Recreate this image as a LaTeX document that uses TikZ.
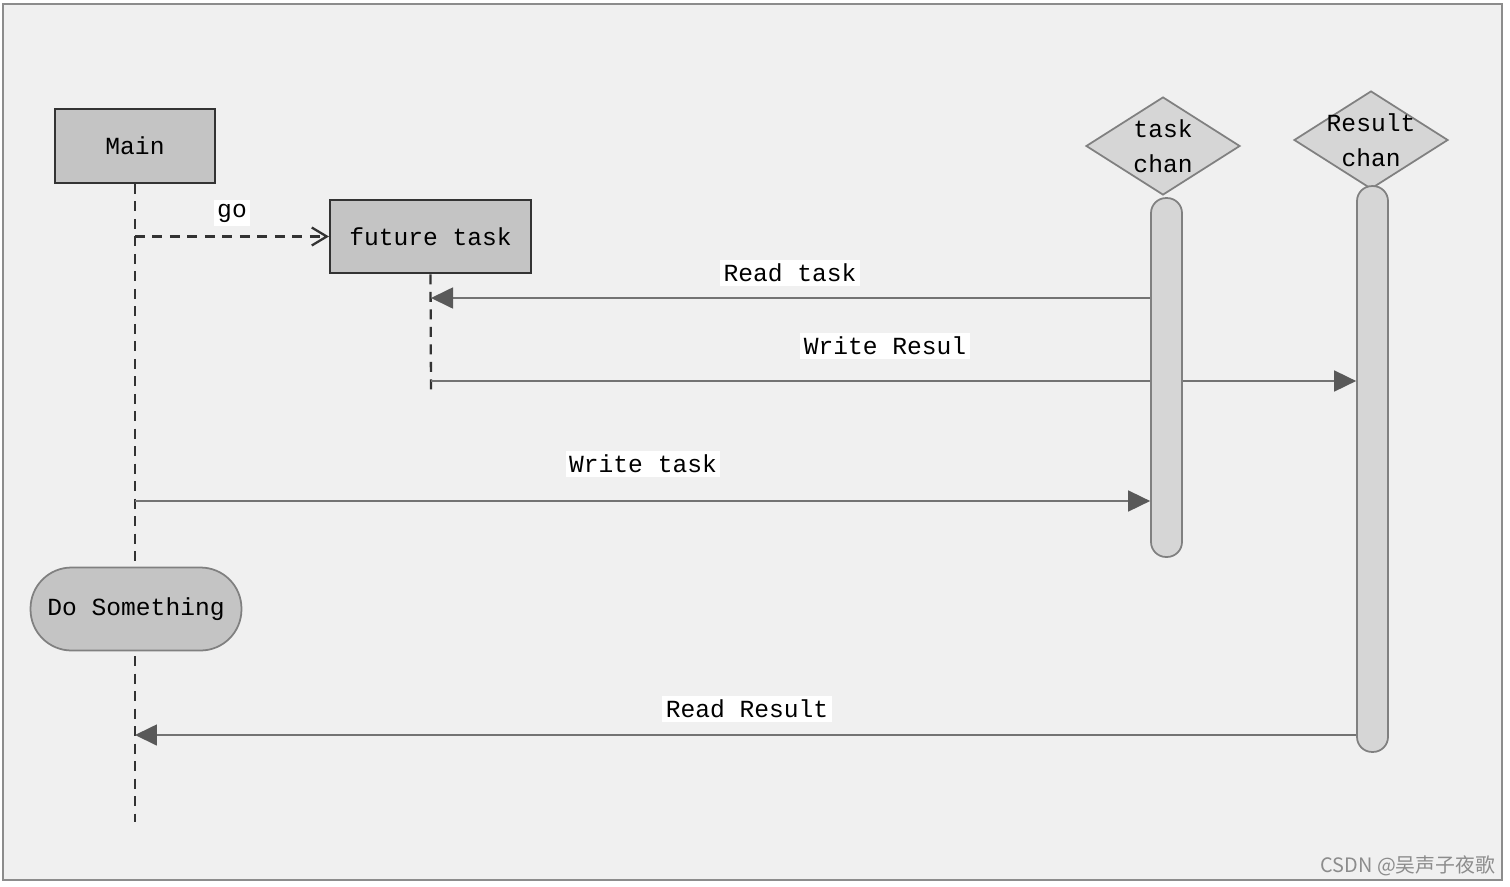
\documentclass[tikz,border=0pt]{standalone}
\usepackage{fontspec}
\setmonofont{Liberation Mono}
\newfontfamily\cjkfont{Noto Sans CJK SC}
\usepackage{tikz}
\usetikzlibrary{arrows.meta, positioning, shapes.geometric}

\definecolor{paper}{HTML}{F0F0F0}
\definecolor{boxgray}{HTML}{C4C4C4}
\definecolor{changray}{HTML}{D6D6D6}
\definecolor{linegray}{HTML}{808080}

\tikzset{
    actor/.style={draw=black!80, fill=boxgray, line width=1.2pt, minimum height=1.47cm},
    chan/.style={diamond, draw=linegray, fill=changray, line width=1pt, aspect=1.54,
        inner sep=-4pt, minimum width=3.08cm, minimum height=1.96cm, align=center},
    chanbar/.style={draw=linegray, fill=changray, line width=1pt, minimum width=0.62cm,
        rounded corners=0.3cm},
    lifeline/.style={draw=black!80, line width=1.3pt, dash pattern=on 0.2cm off 0.15cm},
    msg/.style={draw=black!55, line width=1pt, -{Triangle[length=0.44cm,width=0.42cm,color=black!65]}},
    msgtext/.style={fill=white, inner sep=2pt},
}

\begin{document}
\begin{tikzpicture}[x=0.02cm, y=-0.02cm, font=\ttfamily\fontsize{14}{20}\selectfont]
            \useasboundingbox (0,0) rectangle (1510,886);
            \draw[draw=black!45, fill=paper, line width=1pt] (3,4) rectangle (1502,880);

            \node[actor, minimum width=3.2cm] (main) at (135,146) {Main};
            \node[actor, minimum width=4.02cm] (ft) at (430.5,236.5) {future task};

            \node[chan] (taskchan) at (1163,146) {task\\chan};
            \node[chan] (reschan) at (1371,140) {Result\\chan};

            \coordinate (mainend) at (135,822);
            \coordinate (ftend) at (431,395);
            \draw[lifeline] (main.south) -- (mainend);
            \draw[lifeline] (ft.south) -- (ftend);

            \node[draw=linegray, fill=boxgray, line width=1pt, minimum width=4.22cm,
                minimum height=1.66cm, rounded corners=0.82cm] (dosth) at (136,609) {Do Something};

            \node[chanbar, minimum height=11.32cm] (resbar) at (1372.5,469) {};

            \draw[lifeline, -{Straight Barb[length=0.3cm,width=0.36cm]}] (main.south |- ft.west) -- (ft.west);
            \node[msgtext] (golabel) at (232,213) {go};

            \coordinate (ftwr) at (431,381);
            \draw[msg] (ftwr) -- (resbar.west |- ftwr);
            \node[msgtext] (wrlabel) at (885,346) {Write Resul};

            \node[chanbar, minimum height=7.18cm] (taskbar) at (1166.5,377.5) {};

            \coordinate (ftrd) at (431,298);
            \draw[msg] (taskbar.west |- ftrd) -- (ftrd);
            \node[msgtext] (rdlabel) at (790,273) {Read task};

            \coordinate (mainwr) at (135,501);
            \draw[msg] (mainwr) -- (taskbar.west |- mainwr);
            \node[msgtext] (wtlabel) at (643,464) {Write task};

            \coordinate (mainrd) at (135,735);
            \draw[msg] (resbar.west |- mainrd) -- (mainrd);
            \node[msgtext] (rrlabel) at (747,709) {Read Result};

            \node[text=black!45, font=\cjkfont\fontsize{11.3}{13}\selectfont] (mark) at (1408,866) {CSDN @吴声子夜歌};
        \end{tikzpicture}
\end{document}
